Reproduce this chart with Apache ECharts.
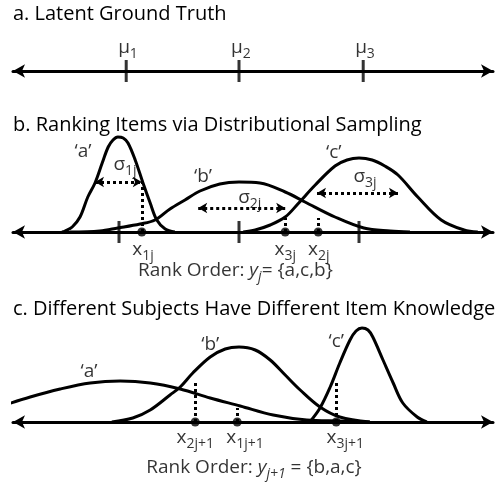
<!DOCTYPE html>
<html>
<head>
<meta charset="utf-8">
<script src="https://cdn.jsdelivr.net/npm/echarts@6/dist/echarts.min.js"></script>
<style>
  html, body { margin: 0; padding: 0; background: #fff; }
  #chart { width: 501px; height: 484px; }
</style>
</head>
<body>
<div id="chart"></div>
<script>
// latent scale: mu2 = 0, neighbouring means in panel b are 2 units apart
const X_MIN = -3.7667;
const X_MAX = 4.2333;
const FONT = 'Open Sans';
const FS = 19;
const TITLE_FS = 20;

// panel titles
const titles = [
  'a. Latent Ground Truth',
  'b. Ranking Items via Distributional Sampling',
  'c. Different Subjects Have Different Item Knowledge'
];

// panel a: ground truth means
const muA = [-1.88, 0, 2.07];
const muNames = ['{n|μ}{s|1}', '{n|μ}{s|2}', '{n|μ}{s|3}'];

// panel b: item distributions for subject j  [x, density]
const bCurveA = [[-2.95, 0], [-2.90, 0.01], [-2.78, 0.05], [-2.65, 0.15], [-2.52, 0.35], [-2.40, 0.49],
  [-2.28, 0.69], [-2.18, 0.85], [-2.10, 0.92], [-2.02, 0.95], [-1.93, 0.94], [-1.85, 0.89],
  [-1.73, 0.72], [-1.60, 0.49], [-1.48, 0.29], [-1.37, 0.12], [-1.23, 0.03], [-1.07, 0]];
const bCurveB = [[-2.82, 0], [-2.32, 0.01], [-2.02, 0.04], [-1.65, 0.08], [-1.40, 0.12], [-1.15, 0.23],
  [-0.90, 0.32], [-0.65, 0.41], [-0.32, 0.48], [0, 0.50], [0.35, 0.49], [0.77, 0.40],
  [1.10, 0.30], [1.60, 0.15], [2.08, 0.04], [2.52, 0.01], [2.85, 0]];
const bCurveC = [[0.07, 0], [0.27, 0.02], [0.52, 0.07], [0.77, 0.15], [0.98, 0.28], [1.27, 0.47],
  [1.60, 0.66], [1.80, 0.72], [2.00, 0.74], [2.22, 0.72], [2.43, 0.66], [2.65, 0.57],
  [2.98, 0.35], [3.37, 0.12], [3.75, 0.02], [3.98, 0]];
const muB = [-2, 0, 2];
const samplesB = [-1.62, 0.77, 1.32];
const sampleTopsB = [0.50, 0.14, 0.14];
const sigmaB = [[-2.40, -1.62, 0.50], [-0.68, 0.77, 0.24], [1.30, 2.65, 0.39]];
const textB = [
  [-2.60, 0.80, "{n|‘a’}"],
  [-1.90, 0.67, '{n|σ}{s|1j}'],
  [-0.60, 0.55, "{n|‘b’}"],
  [0.18, 0.34, '{n|σ}{s|2j}'],
  [1.58, 0.79, "{n|‘c’}"],
  [2.10, 0.55, '{n|σ}{s|3j}'],
  [-1.60, -0.18, '{n|x}{s|1j}'],
  [0.77, -0.18, '{n|x}{s|3j}'],
  [1.33, -0.18, '{n|x}{s|2j}'],
  [-0.06, -0.39, '{n|Rank Order: }{i|y}{is|j}{n|= {a,c,b}}']
];

// panel c: item distributions for subject j+1
const cCurveA = [[-3.90, 0.17], [-3.48, 0.25], [-2.98, 0.33], [-2.48, 0.39], [-1.98, 0.41], [-1.48, 0.39],
  [-0.98, 0.33], [-0.48, 0.24], [0.02, 0.16], [0.57, 0.07], [1.13, 0.02], [1.68, 0.01], [2.18, 0]];
const cCurveB = [[-2.12, 0], [-1.77, 0.04], [-1.48, 0.12], [-1.15, 0.27], [-0.98, 0.35], [-0.77, 0.49],
  [-0.48, 0.65], [-0.23, 0.73], [0, 0.75], [0.27, 0.72], [0.52, 0.62], [0.77, 0.47],
  [1.02, 0.32], [1.35, 0.15], [1.68, 0.05], [2.18, 0]];
const cCurveC = [[1.18, 0], [1.35, 0.14], [1.52, 0.35], [1.68, 0.59], [1.85, 0.82], [1.95, 0.91],
  [2.05, 0.94], [2.15, 0.92], [2.23, 0.85], [2.40, 0.62], [2.57, 0.39], [2.73, 0.19],
  [2.97, 0.05], [3.13, 0]];
const samplesC = [-0.73, -0.03, 1.62];
const sampleTopsC = [0.42, 0.14, 0.40];
const textC = [
  [-2.50, 0.50, "{n|‘a’}"],
  [-0.48, 0.77, "{n|‘b’}"],
  [1.62, 0.80, "{n|‘c’}"],
  [-0.73, -0.16, '{n|x}{s|2j+1}'],
  [0.10, -0.16, '{n|x}{s|1j+1}'],
  [1.77, -0.16, '{n|x}{s|3j+1}'],
  [0.25, -0.46, '{n|Rank Order: }{i|y}{is|j+1}{n| = {b,a,c}}']
];

const rich = {
  n: { fontSize: FS, fontFamily: FONT, color: '#000' },
  s: { fontSize: 14, fontFamily: FONT, color: '#000', padding: [12, 0, 0, 0] },
  i: { fontSize: FS, fontFamily: FONT, color: '#000', fontStyle: 'italic' },
  is: { fontSize: 14, fontFamily: FONT, color: '#000', fontStyle: 'italic', padding: [12, 0, 0, 0] }
};

const black = '#000';
const dotted = { color: black, width: 3, type: [3, 3] };

function curve(data, gi) {
  return {
    type: 'line', xAxisIndex: gi, yAxisIndex: gi, data: data,
    smooth: 0.35, symbol: 'none', clip: false, silent: true,
    lineStyle: { color: black, width: 3 }
  };
}

function ticks(values, gi) {
  return {
    type: 'scatter', xAxisIndex: gi, yAxisIndex: gi, symbol: 'rect', symbolSize: [3, 22],
    itemStyle: { color: black }, silent: true, clip: false,
    data: values.map(v => [v, 0])
  };
}

function texts(items, gi) {
  return {
    type: 'scatter', xAxisIndex: gi, yAxisIndex: gi, symbolSize: 0, silent: true, clip: false, z: 5,
    data: items.map(t => ({ value: [t[0], t[1]], name: t[2] })),
    label: {
      show: true, position: 'inside', formatter: p => p.name, rich: rich,
      fontSize: FS, fontFamily: FONT, color: black
    }
  };
}

function samples(xs, tops, gi) {
  return {
    type: 'scatter', xAxisIndex: gi, yAxisIndex: gi, symbol: 'circle', symbolSize: 9,
    itemStyle: { color: black }, silent: true, clip: false, z: 4,
    data: xs.map(x => [x, 0]),
    markLine: {
      silent: true, symbol: 'none', label: { show: false }, lineStyle: dotted,
      data: xs.map((x, k) => [{ coord: [x, 0] }, { coord: [x, tops[k]] }])
    }
  };
}

function arrows(items, gi) {
  return {
    type: 'line', xAxisIndex: gi, yAxisIndex: gi, data: [], silent: true,
    markLine: {
      silent: true, symbol: ['arrow', 'arrow'], symbolSize: [8, 9], label: { show: false },
      lineStyle: dotted,
      data: items.map(a => [{ coord: [a[0], a[2]] }, { coord: [a[1], a[2]] }])
    }
  };
}

const titleTops = [3, 114, 298];
const gridTops = [21, 132, 322];
const gridHeights = [50, 100, 100];
const yMax = [0.5, 1, 1];

const option = {
  animation: false,
  backgroundColor: '#fff',
  textStyle: { fontFamily: FONT, color: black },
  title: titles.map((t, i) => ({
    text: t, left: 13, top: titleTops[i], padding: 0,
    textStyle: { fontSize: TITLE_FS, lineHeight: 22, fontWeight: 'normal', color: black, fontFamily: FONT }
  })),
  grid: gridTops.map((t, i) => ({ left: 13, right: 8, top: t, height: gridHeights[i] })),
  xAxis: [0, 1, 2].map(i => ({
    type: 'value', gridIndex: i, min: X_MIN, max: X_MAX,
    axisLine: { show: true, onZero: true, symbol: ['arrow', 'arrow'], symbolSize: [10, 12],
      lineStyle: { color: black, width: 3 } },
    axisTick: { show: false }, axisLabel: { show: false }, splitLine: { show: false }
  })),
  yAxis: [0, 1, 2].map(i => ({ type: 'value', gridIndex: i, min: 0, max: yMax[i], show: false })),
  series: [
    ticks(muA, 0),
    texts(muA.map((m, k) => [m + 0.03, 0.23, muNames[k]]), 0),

    curve(bCurveA, 1), curve(bCurveB, 1), curve(bCurveC, 1),
    ticks(muB, 1),
    samples(samplesB, sampleTopsB, 1),
    arrows(sigmaB, 1),
    texts(textB, 1),

    curve(cCurveA, 2), curve(cCurveB, 2), curve(cCurveC, 2),
    samples(samplesC, sampleTopsC, 2),
    texts(textC, 2)
  ]
};

const chart = echarts.init(document.getElementById('chart'));
chart.setOption(option);
</script>
</body>
</html>
